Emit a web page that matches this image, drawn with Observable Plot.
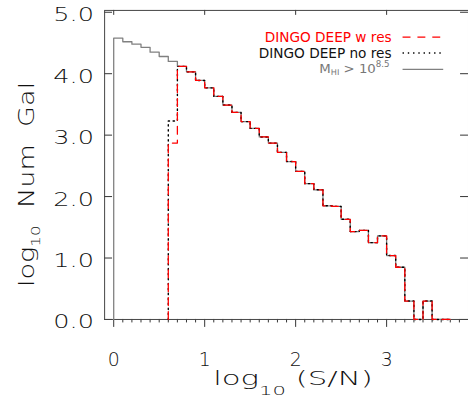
<!DOCTYPE html>
<html><head><meta charset="utf-8">
<script src="https://cdn.jsdelivr.net/npm/d3@7"></script>
<script src="https://cdn.jsdelivr.net/npm/@observablehq/plot@0.6"></script>
<style>
html,body{margin:0;padding:0;background:#fff;overflow:hidden;width:468px;height:406px}
svg text{font-family:"DejaVu Sans",sans-serif;font-weight:200}
svg text.legend{font-weight:400}
</style>
</head><body><div id="chart"></div>
<script>
// Bin lower edges in log10(S/N), bin width 0.1
const binLeft = [0.0,0.1,0.2,0.3,0.4,0.5,0.6,0.7,0.8,0.9,1.0,1.1,1.2,1.3,1.4,1.5,1.6,1.7,1.8,1.9,2.0,2.1,2.2,2.3,2.4,2.5,2.6,2.7,2.8,2.9,3.0,3.1,3.2,3.3,3.4,3.5,3.6];
const binWidth = 0.1;
// log10 number of galaxies per bin
const dingoWithRes = [0,0,0,0,0,0,2.87,4.12,4.03,3.89,3.77,3.63,3.49,3.37,3.22,3.11,2.97,2.87,2.72,2.57,2.41,2.21,2.11,1.85,1.84,1.63,1.43,1.45,1.25,1.36,1.04,0.85,0.30,0,0.30,0,0];
const dingoNoRes   = [0,0,0,0,0,0,3.23,4.12,4.03,3.89,3.77,3.63,3.49,3.37,3.22,3.11,2.97,2.87,2.72,2.57,2.41,2.21,2.11,1.85,1.84,1.63,1.43,1.45,1.25,1.36,1.04,0.85,0.30,0,0.30,0,0];
const mhiAbove     = [4.58,4.52,4.48,4.43,4.35,4.28,4.20,4.12,4.03,3.89,3.77,3.63,3.49,3.37,3.22,3.11,2.97,2.87,2.72,2.57,2.41,2.21,2.11,1.85,1.84,1.63,1.43,1.45,1.25,1.36,1.04,0.85,0.30,0,0.30,0,0];

const xTicks = [0,1,2,3];
const xTickLabels = ["0","1","2","3"];
const yTicks = [0,1,2,3,4,5];
const yTickLabels = ["0.0","1.0","2.0","3.0","4.0","5.0"];
const legendLabels = ["DINGO DEEP w res","DINGO DEEP no res"];

const xDomain = [-0.1, 3.9];
const yDomain = [0, 5.03];

// step outline starting at the first non-empty bin (from zero)
function steps(vals){
  const first = vals.findIndex(v => v > 0);
  const pts = [{x: binLeft[first], y: 0}];
  for (let i = first; i < vals.length; i++) pts.push({x: binLeft[i], y: vals[i]});
  pts.push({x: binLeft[binLeft.length-1] + binWidth, y: vals[vals.length-1]});
  return pts;
}

const W = 472, H = 406, ML = 105, MR = 0, MT = 10, MB = 84.3;
const PW = W - ML - MR, PH = H - MT - MB;
const minorX = d3.range(1, 39).map(i => i/10).filter(v => Math.abs(v - Math.round(v)) > 1e-6);
const axisCol = "#333";

const plot = Plot.plot({
  width: W, height: H,
  marginLeft: ML, marginRight: MR, marginTop: MT, marginBottom: MB,
  x: {domain: xDomain},
  y: {domain: yDomain},
  style: {color: "#111", background: "#fff"},
  marks: [
    Plot.axisX(minorX, {tickSize: 3.5, tickFormat: () => "", label: null, stroke: axisCol}),
    Plot.axisX(xTicks, {tickSize: 8, tickPadding: 25, fontSize: 19, label: null, stroke: axisCol,
      tickFormat: d => xTickLabels[xTicks.indexOf(d)]}),
    Plot.axisY(yTicks, {tickSize: 0, tickPadding: 10.7, fontSize: 19, label: null, dy: 3,
      tickFormat: d => yTickLabels[yTicks.indexOf(d)]}),
    Plot.tickY(yTicks, {y: d => d, insetRight: PW - 8, stroke: axisCol}),
    Plot.tickY(yTicks, {y: d => d, insetLeft: PW - 8, stroke: axisCol}),
    Plot.tickX(xTicks, {x: d => d, insetBottom: PH - 5, stroke: axisCol}),
    Plot.frame({stroke: "#444"}),
    Plot.line(steps(mhiAbove), {x: "x", y: "y", curve: "step-after", stroke: "#808080", strokeWidth: 1.3}),
    Plot.line(steps(dingoNoRes), {x: "x", y: "y", curve: "step-after", stroke: "#000", strokeWidth: 1.4, strokeDasharray: "1.4,3.6"}),
    Plot.line(steps(dingoWithRes), {x: "x", y: "y", curve: "step-after", stroke: "#ff0000", strokeWidth: 1.3, strokeDasharray: "8,6"})
  ]
});

document.getElementById("chart").appendChild(plot);
const svg = d3.select(plot);
svg.selectAll('[aria-label="y-axis tick label"] text').attr("textLength", 41).attr("lengthAdjust", "spacingAndGlyphs");

// Axis titles
const xt = svg.append("text").attr("transform", "translate(295.5,388)")
  .attr("text-anchor", "middle").attr("font-size", 19).attr("fill", "#111")
  .attr("textLength", 161).attr("lengthAdjust", "spacingAndGlyphs");
xt.append("tspan").text("log");
xt.append("tspan").attr("font-size", 13).attr("dy", 10).text("10");
xt.append("tspan").attr("dy", -10).text(" (S/N)");

const yt = svg.append("text").attr("transform", "translate(34,186) rotate(-90)")
  .attr("text-anchor", "middle").attr("font-size", 21).attr("fill", "#111")
  .attr("textLength", 207).attr("lengthAdjust", "spacingAndGlyphs");
yt.append("tspan").text("log");
yt.append("tspan").attr("font-size", 13).attr("dy", 6).text("10");
yt.append("tspan").attr("dy", -6).text("  Num  Gal");

// Legend
const lg = svg.append("g");
lg.append("text").attr("class", "legend").attr("x", 395).attr("y", 42.7).attr("text-anchor", "end").attr("font-size", 14)
  .attr("fill", "#ff0000").attr("textLength", 128).attr("lengthAdjust", "spacingAndGlyphs").text(legendLabels[0]);
lg.append("text").attr("class", "legend").attr("x", 395).attr("y", 58.3).attr("text-anchor", "end").attr("font-size", 13.5)
  .attr("fill", "#111").attr("textLength", 134).attr("lengthAdjust", "spacingAndGlyphs").text(legendLabels[1]);
const t3 = lg.append("text").attr("class", "legend").attr("x", 393).attr("y", 73.5).attr("text-anchor", "end").attr("font-size", 13)
  .attr("fill", "#777").attr("textLength", 71).attr("lengthAdjust", "spacingAndGlyphs");
t3.append("tspan").text("M");
t3.append("tspan").attr("font-size", 8).attr("dy", 2).text("HI");
t3.append("tspan").attr("dy", -2).text(" > 10");
t3.append("tspan").attr("font-size", 8.5).attr("dy", -5.5).text("8.5");
lg.append("line").attr("x1", 406).attr("x2", 444).attr("y1", 37.5).attr("y2", 37.5)
  .attr("stroke", "#ff0000").attr("stroke-width", 1.3).attr("stroke-dasharray", "8,7");
lg.append("line").attr("x1", 406).attr("x2", 446).attr("y1", 53.5).attr("y2", 53.5)
  .attr("stroke", "#000").attr("stroke-width", 1.4).attr("stroke-dasharray", "1.4,3.9");
lg.append("line").attr("x1", 406).attr("x2", 447).attr("y1", 70).attr("y2", 70)
  .attr("stroke", "#808080").attr("stroke-width", 1.3);
</script></body></html>
